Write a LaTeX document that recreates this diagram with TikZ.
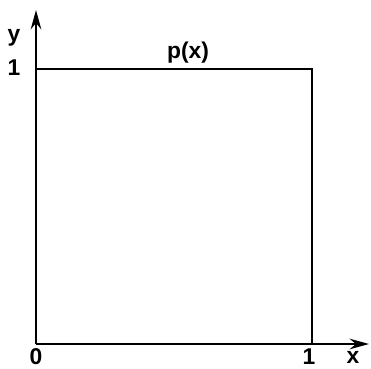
\documentclass[tikz,border=0pt]{standalone}
\usepackage{fontspec}
\setmainfont{Liberation Sans}
\usetikzlibrary{arrows.meta}

\begin{document}
\begin{tikzpicture}[
  x=0.02cm, y=0.02cm,
  axis/.style={line width=1.3pt, -{Stealth[length=11pt, width=6pt]}},
  edge/.style={line width=1.3pt},
  lbl/.style={font=\fontsize{13}{15}\selectfont\bfseries, inner sep=0pt}
]
  \useasboundingbox (0,0) rectangle (371,368);
  \coordinate (o) at (36,24);
  \coordinate (xend) at (369,24);
  \coordinate (yend) at (36,358);
  \coordinate (c1) at (312,24);
  \coordinate (c2) at (312,299);
  \coordinate (c3) at (36,299);
  \draw[axis] (o) -- (xend);
  \draw[axis] (o) -- (yend);
  \draw[edge] (c3) -- (c2) -- (c1);
  \node[lbl] (ylab) at (14,330) {y};
  \node[lbl] (one) at (14,300) {1};
  \node[lbl] (px) at (188,315) {p(x)};
  \node[lbl] (zero) at (36,11) {0};
  \node[lbl] (onex) at (309,11) {1};
  \node[lbl] (xlab) at (353,11) {x};
\end{tikzpicture}
\end{document}
